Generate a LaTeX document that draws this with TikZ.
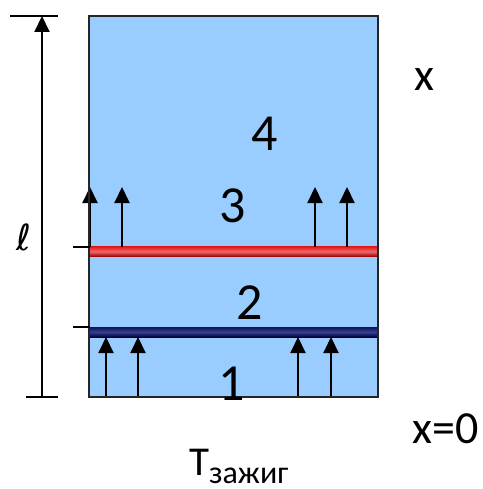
\documentclass[tikz,border=0pt]{standalone}
\usepackage{fontspec}
\setmainfont{Carlito}
\newfontfamily\ellfont{DejaVu Sans}
\usetikzlibrary{arrows.meta}
\definecolor{bgblue}{HTML}{99CCFF}
\definecolor{barred}{HTML}{E01818}
\definecolor{barredlight}{HTML}{F06A6A}
\definecolor{barreddark}{HTML}{960000}
\definecolor{barnavy}{HTML}{10105C}
\definecolor{barnavylight}{HTML}{34408E}
\definecolor{barnavydark}{HTML}{000034}
\tikzset{
  flux/.style={line width=2pt, -{Triangle[width=15pt,length=16pt]}},
  dimline/.style={line width=2pt, -{Triangle[width=15pt,length=16pt]}},
  tickline/.style={line width=1.5pt},
  lbl/.style={inner sep=0pt, anchor=base, font=\fontsize{52}{52}\selectfont},
  axlbl/.style={inner sep=0pt, anchor=base, font=\fontsize{46}{46}\selectfont}
}
\begin{document}
\begin{tikzpicture}[x=1pt,y=-1pt]
\useasboundingbox (0,0) rectangle (482,489);
% domain
\fill[bgblue] (89,16) rectangle (378,397);
% bars
\shade[top color=barred, bottom color=barreddark, middle color=barredlight] (89,246.5) rectangle (378,256.5);
\shade[top color=barnavy, bottom color=barnavydark, middle color=barnavylight] (89,327) rectangle (378,337);
% coordinates
\coordinate (r1) at (90,247);  \coordinate (t1) at (90,187);
\coordinate (r2) at (122,247); \coordinate (t2) at (122,187);
\coordinate (r3) at (315,247); \coordinate (t3) at (315,187);
\coordinate (r4) at (347,247); \coordinate (t4) at (347,187);
\coordinate (b1) at (106,397); \coordinate (u1) at (106,337);
\coordinate (b2) at (138,397); \coordinate (u2) at (138,337);
\coordinate (b3) at (298,397); \coordinate (u3) at (298,337);
\coordinate (b4) at (331,397); \coordinate (u4) at (331,337);
\draw[flux] (r1) -- (t1);
\draw[flux] (r2) -- (t2);
\draw[flux] (r3) -- (t3);
\draw[flux] (r4) -- (t4);
\draw[flux] (b1) -- (u1);
\draw[flux] (b2) -- (u2);
\draw[flux] (b3) -- (u3);
\draw[flux] (b4) -- (u4);
% border
\draw[line width=1.5pt, black!85] (89,16) rectangle (378,397);
% length dimension
\coordinate (tt1) at (10,16);  \coordinate (tt2) at (58,16);
\coordinate (bt1) at (26,397); \coordinate (bt2) at (58,397);
\coordinate (dimb) at (42,397); \coordinate (dimt) at (42,16);
\draw[tickline] (tt1) -- (tt2);
\draw[tickline] (bt1) -- (bt2);
\draw[dimline] (dimb) -- (dimt);
\coordinate (k1a) at (73,247); \coordinate (k1b) at (90,247);
\coordinate (k2a) at (73,327); \coordinate (k2b) at (90,327);
\draw[tickline] (k1a) -- (k1b);
\draw[tickline] (k2a) -- (k2b);
% labels
\node[inner sep=0pt, anchor=base] (ell) at (24,250) {\ellfont\fontsize{36}{36}\selectfont ℓ};
\node[lbl] (n4) at (265,150) {4};
\node[lbl] (n3) at (233,222) {3};
\node[lbl] (n2) at (250,319) {2};
\node[lbl] (n1) at (232,400) {1};
\node[axlbl] (xl) at (424,91) {x};
\node[axlbl] (x0) at (446,443) {x=0};
\node[inner sep=0pt, anchor=base west] (tz) at (189,475) {\fontsize{41}{41}\selectfont T\fontsize{32}{32}\selectfont\raisebox{-8pt}[\height][0pt]{зажиг}};
\end{tikzpicture}
\end{document}
